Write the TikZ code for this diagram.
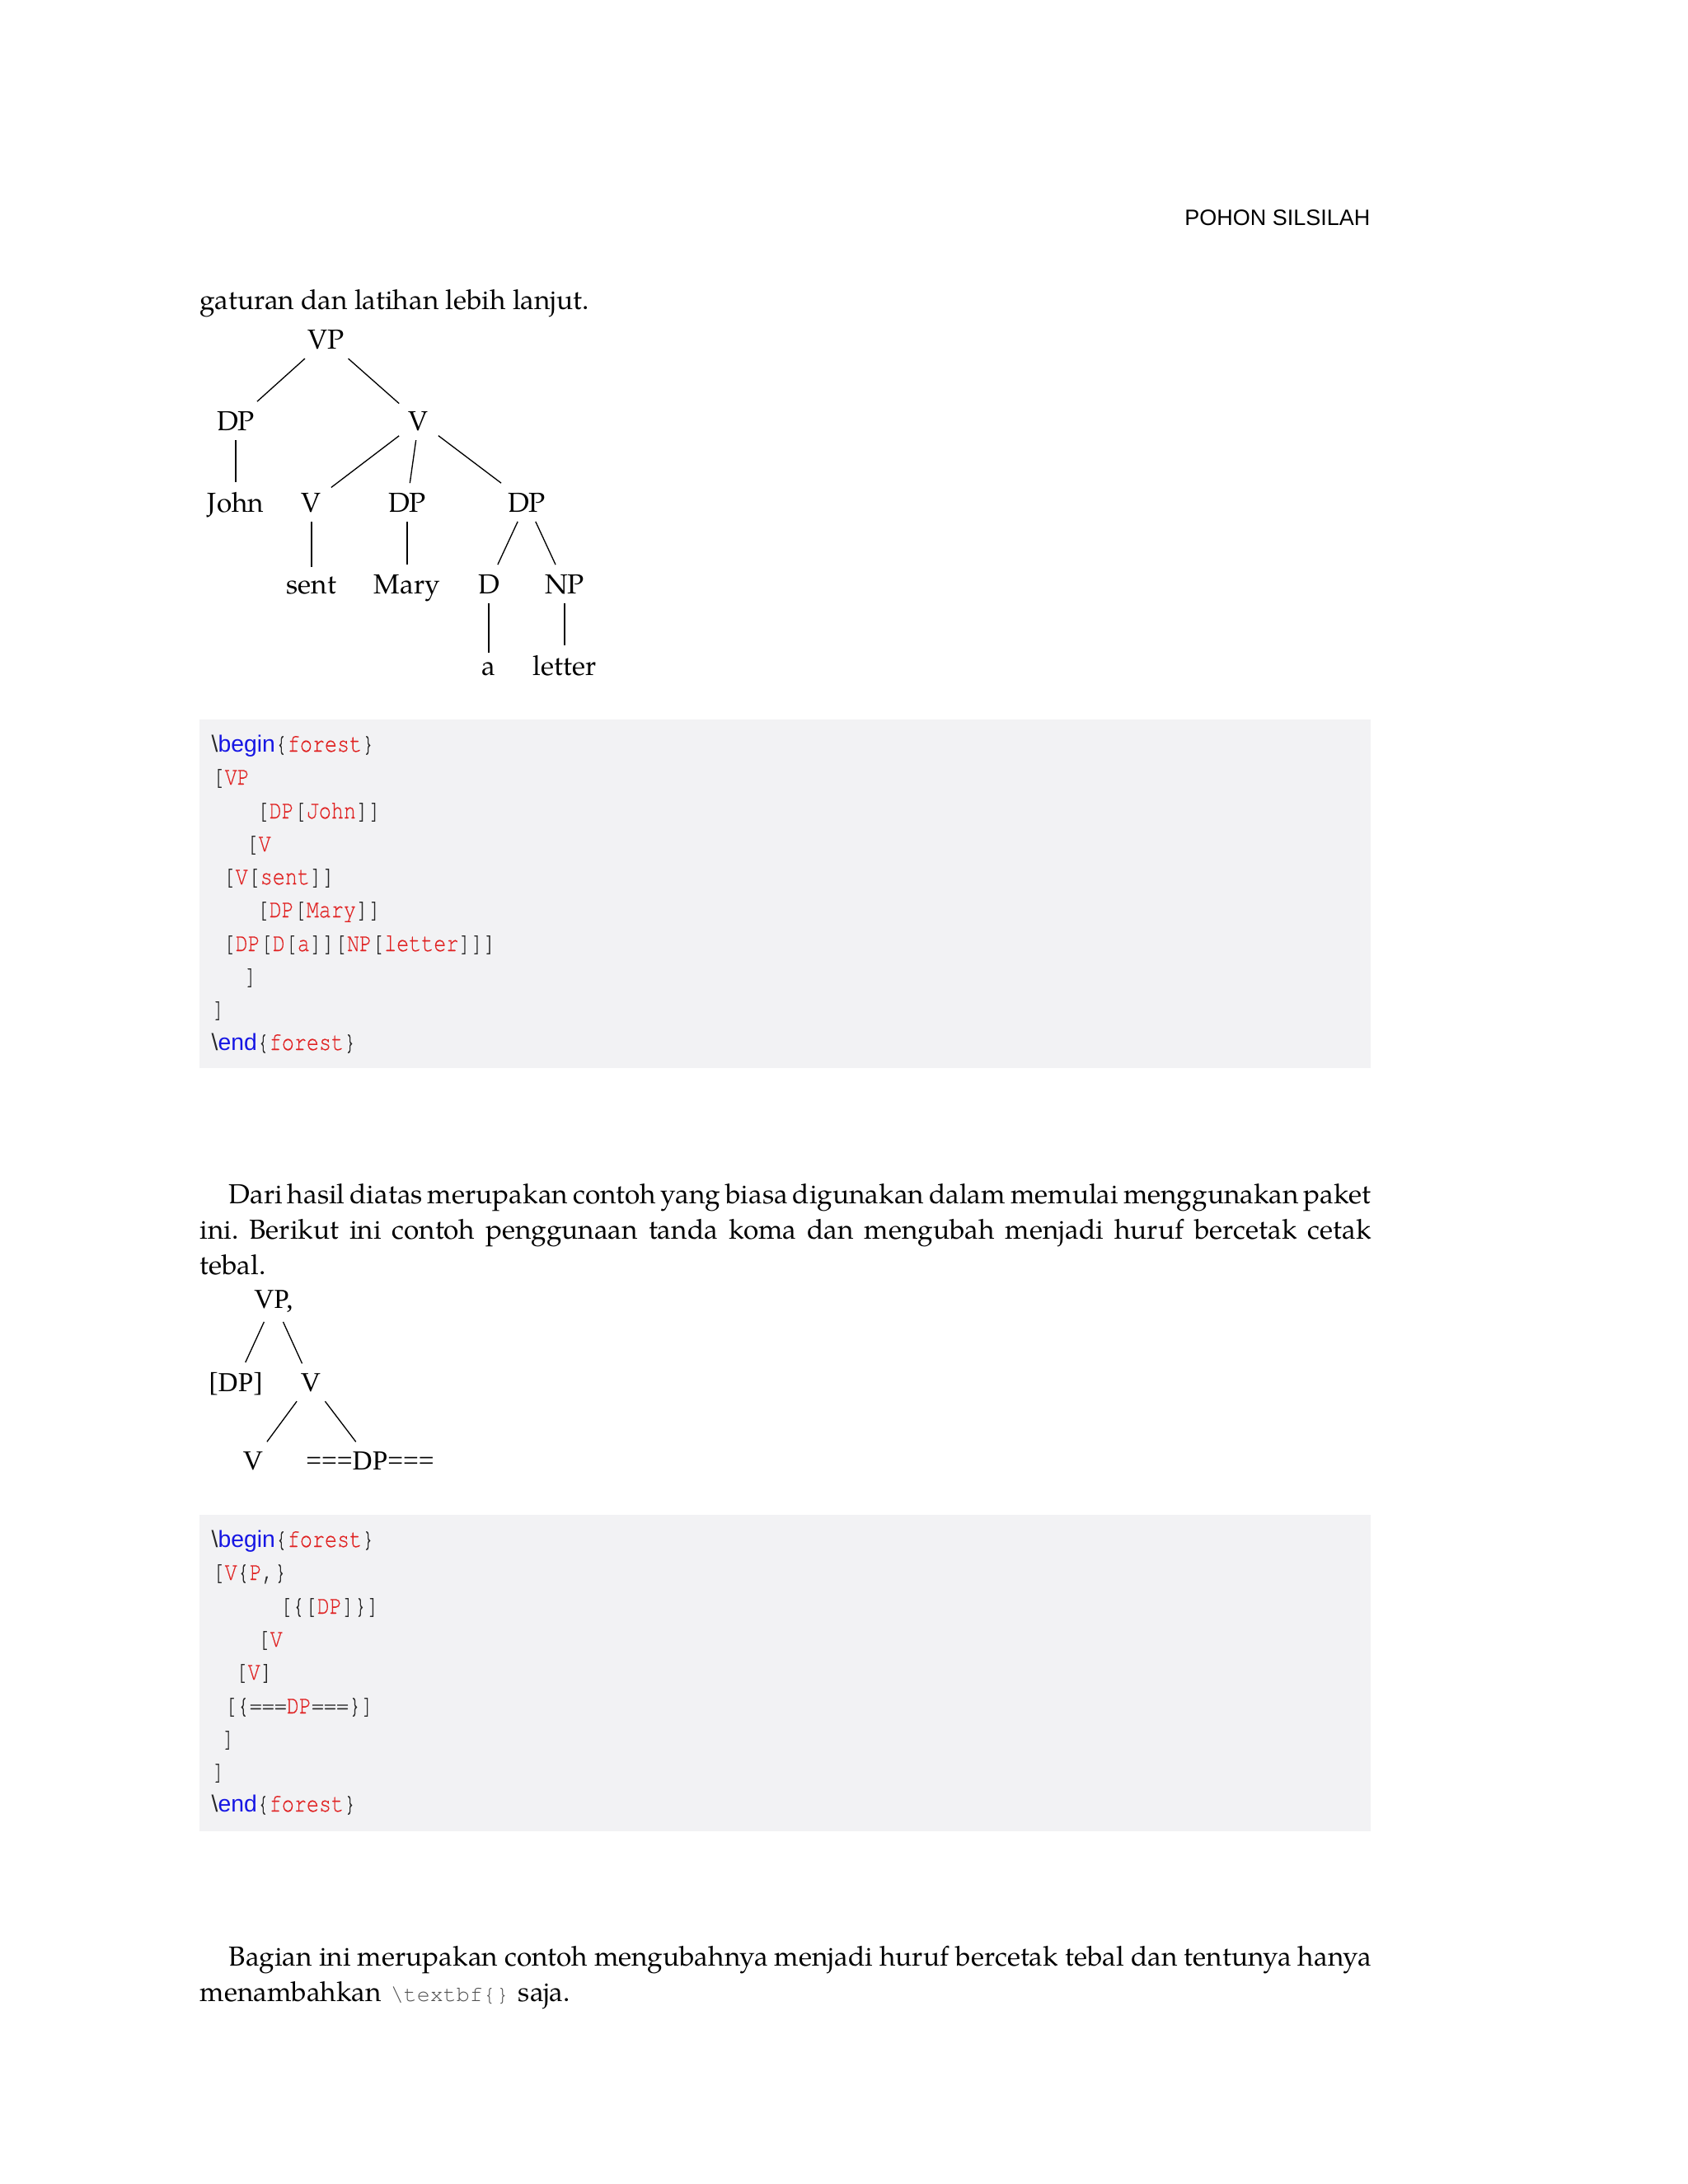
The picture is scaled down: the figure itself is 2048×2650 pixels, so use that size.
\documentclass[tikz,border=0pt]{standalone}
\usepackage{fontspec}
\setmainfont{TeX Gyre Pagella}
\setsansfont{Liberation Sans}
\newfontfamily\codefont[FakeStretch=0.8,FakeBold=0.4]{TeX Gyre Cursor}
\newfontfamily\inlinefont{TeX Gyre Cursor}
\newfontfamily\keyfont{Liberation Sans}
\newfontfamily\timesfont{Liberation Serif}
\usepackage{xcolor}
\usepackage{tikz}

\definecolor{codebg}{RGB}{242,242,244}
\definecolor{codered}{RGB}{224,34,34}
\definecolor{codeblue}{RGB}{22,22,228}
\definecolor{codepunct}{RGB}{40,40,40}
\definecolor{inlinegray}{RGB}{80,80,80}

\newcommand{\kw}[1]{{\keyfont\fontsize{8.5}{11}\selectfont\color{codeblue}#1}}
\newcommand{\bsl}{{\keyfont\fontsize{8.5}{11}\selectfont\textbackslash}}
\newcommand{\nm}[1]{{\color{codered}#1}}
\newcommand{\fullline}[1]{\hbox to 426.3pt{\spaceskip=2.5pt plus 4pt minus 2.2pt\xspaceskip=\spaceskip #1}\par}

\begin{document}
\begin{tikzpicture}[x=0.3pt,y=-0.3pt,
  body/.style={anchor=base west,inner sep=0pt,font=\fontsize{10}{12.9}\selectfont},
  code/.style={anchor=base west,inner sep=0pt,text=codepunct,font=\codefont\fontsize{9.4}{11}\selectfont},
  tlabel/.style={anchor=base,font=\fontsize{10}{12}\selectfont},
  tlabelb/.style={anchor=base,font=\timesfont\fontsize{10}{12}\selectfont}]
  \fill[white] (0,0) rectangle (2048,2650);
  \useasboundingbox (0,0) rectangle (2048,2650);

  \node[anchor=base east,inner sep=0pt,font=\sffamily\fontsize{8.1}{10}\selectfont] (header) at (1663,273) {POHON SILSILAH};
  \node[body] (intro) at (242,375) {gaturan dan latihan lebih lanjut.};

  \node[tlabel] (vp) at (396,423) {VP};
  \node[tlabel] (dpa) at (286,522) {DP};
  \node[tlabel] (va) at (508,522) {V};
  \node[tlabel] (john) at (286,621) {John};
  \node[tlabel] (vb) at (378,621) {V};
  \node[tlabel] (dpb) at (494,621) {DP};
  \node[tlabel] (dpc) at (639,621) {DP};
  \node[tlabel] (sent) at (378,720) {sent};
  \node[tlabel] (mary) at (494,720) {Mary};
  \node[tlabel] (d) at (593,720) {D};
  \node[tlabel] (np) at (685,720) {NP};
  \node[tlabel] (a) at (593,819) {a};
  \node[tlabel] (letter) at (685,819) {letter};
  \draw (vp) -- (dpa);
  \draw (vp) -- (va);
  \draw (dpa) -- (john);
  \draw (va) -- (vb);
  \draw (va) -- (dpb);
  \draw (va) -- (dpc);
  \draw (vb) -- (sent);
  \draw (dpb) -- (mary);
  \draw (dpc) -- (d);
  \draw (dpc) -- (np);
  \draw (d) -- (a);
  \draw (np) -- (letter);

  \fill[codebg] (242,873) rectangle (1663,1296);
  \node[code] (ca1) at (256,912) {\bsl\kw{begin}\{\nm{forest}\}};
  \node[code] (ca2) at (257,952) {[\nm{VP}};
  \node[code] (ca3) at (311,993) {[\nm{DP}[\nm{John}]]};
  \node[code] (ca4) at (298,1033) {[\nm{V}};
  \node[code] (ca5) at (270,1073) {[\nm{V}[\nm{sent}]]};
  \node[code] (ca6) at (311,1113) {[\nm{DP}[\nm{Mary}]]};
  \node[code] (ca7) at (270,1154) {[\nm{DP}[\nm{D}[\nm{a}]][\nm{NP}[\nm{letter}]]]};
  \node[code] (ca8) at (296,1194) {]};
  \node[code] (ca9) at (257,1234) {]};
  \node[code] (ca10) at (256,1274) {\bsl\kw{end}\{\nm{forest}\}};

  \node[body,text width=426.3pt] (para1) at (242,1460) {\fullline{\hspace*{10.5pt}Dari hasil diatas merupakan contoh yang biasa digunakan dalam memulai menggunakan paket}
    \fullline{ini. Berikut ini contoh penggunaan tanda koma dan mengubah menjadi huruf bercetak cetak}
    \noindent tebal.};

  \node[tlabelb] (vpc) at (332,1587) {VP,};
  \node[tlabelb] (dpbr) at (286,1688) {[DP]};
  \node[tlabelb] (vc) at (377,1688) {V};
  \node[tlabelb] (vd) at (307,1783) {V};
  \node[tlabelb] (dpeq) at (449,1783) {===DP===};
  \draw (vpc) -- (dpbr);
  \draw (vpc) -- (vc);
  \draw (vc) -- (vd);
  \draw (vc) -- (dpeq);

  \fill[codebg] (242,1838) rectangle (1663,2222);
  \node[code] (cb1) at (256,1877) {\bsl\kw{begin}\{\nm{forest}\}};
  \node[code] (cb2) at (257,1917) {[\nm{V}\{\nm{P},\}};
  \node[code] (cb3) at (339,1958) {[\{[\nm{DP}]\}]};
  \node[code] (cb4) at (312,1998) {[\nm{V}};
  \node[code] (cb5) at (285,2038) {[\nm{V}]};
  \node[code] (cb6) at (272,2079) {[\{===\nm{DP}===\}]};
  \node[code] (cb7) at (269,2119) {]};
  \node[code] (cb8) at (257,2159) {]};
  \node[code] (cb9) at (256,2198) {\bsl\kw{end}\{\nm{forest}\}};

  \node[body,text width=426.3pt] (para2) at (242,2385) {\fullline{\hspace*{10.5pt}Bagian ini merupakan contoh mengubahnya menjadi huruf bercetak tebal dan tentunya hanya}
    \noindent menambahkan {\inlinefont\fontsize{8}{10}\selectfont\color{inlinegray}\textbackslash textbf\{\}} saja.};
\end{tikzpicture}
\end{document}
